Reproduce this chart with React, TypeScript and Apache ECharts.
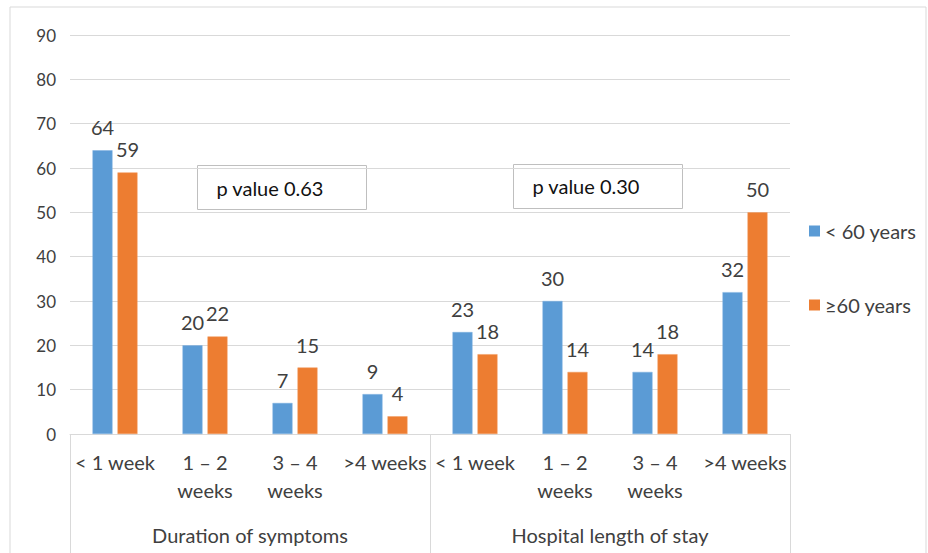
import React, { useEffect, useRef } from "react";
import * as echarts from "echarts";

const categories = [
  "< 1 week", "1 – 2\nweeks", "3 – 4\nweeks", ">4 weeks",
  "< 1 week", "1 – 2\nweeks", "3 – 4\nweeks", ">4 weeks",
];
const groups = ["Duration of symptoms", "Hospital length of stay"];
const under60 = [64, 20, 7, 9, 23, 30, 14, 32];
const over60 = [59, 22, 15, 4, 18, 14, 18, 50];
const seriesNames = ["< 60 years", "≥60 years"];
const pValues = ["p value 0.63", "p value 0.30"];

const FONT = "Lato, 'Open Sans', sans-serif";
const TEXT = "#404040";
const LINE = "#d9d9d9";
const TEXT_SIZE = 20;
const AXIS_NUM_SIZE = 17;
const VALUE_SIZE = 20;

export default function App() {
  const ref = useRef<HTMLDivElement>(null);

  useEffect(() => {
    if (!ref.current) return;
    const chart = echarts.init(ref.current, null, { renderer: "svg" });
    const labelStyle = {
      show: true,
      position: "top" as const,
      distance: 13,
      color: TEXT,
      fontSize: VALUE_SIZE,
      fontFamily: FONT,
    };
    chart.setOption({
      animation: false,
      textStyle: { fontFamily: FONT },
      grid: { left: 70, right: 138, top: 35, bottom: 119, containLabel: false },
      legend: {
        orient: "vertical",
        left: 804,
        top: 216,
        itemWidth: 11,
        itemHeight: 11,
        itemGap: 54,
        itemStyle: { borderWidth: 0 },
        icon: "rect",
        textStyle: { color: TEXT, fontSize: TEXT_SIZE, fontFamily: FONT },
        data: seriesNames,
      },
      xAxis: [
        {
          type: "category",
          data: categories,
          position: "bottom",
          axisLine: { show: true, lineStyle: { color: LINE, width: 1 } },
          axisTick: { show: false },
          axisLabel: {
            interval: 0,
            color: TEXT,
            fontSize: TEXT_SIZE,
            fontFamily: FONT,
            lineHeight: 28,
            margin: 14,
          },
        },
        {
          type: "category",
          data: groups,
          position: "bottom",
          axisLine: { show: false },
          axisTick: { show: true, length: 125, lineStyle: { color: LINE, width: 1 } },
          axisLabel: {
            interval: 0,
            color: TEXT,
            fontSize: TEXT_SIZE,
            fontFamily: FONT,
            margin: 91,
          },
        },
      ],
      yAxis: {
        type: "value",
        min: 0,
        max: 90,
        interval: 10,
        axisLine: { show: false },
        axisTick: { show: false },
        splitLine: { lineStyle: { color: LINE, width: 1 } },
        axisLabel: { color: TEXT, fontSize: AXIS_NUM_SIZE, fontFamily: FONT, margin: 14 },
      },
      series: [
        {
          name: seriesNames[0],
          type: "bar",
          data: under60,
          barWidth: 20,
          barGap: "25%",
          itemStyle: { color: "#5B9BD5", borderColor: "#7fb1e0", borderWidth: 0.5 },
          label: labelStyle,
        },
        {
          name: seriesNames[1],
          type: "bar",
          data: over60,
          barWidth: 20,
          itemStyle: { color: "#ED7D31", borderColor: "#f29a5e", borderWidth: 0.5 },
          label: labelStyle,
        },
      ],
      graphic: [
        {
          type: "rect",
          shape: { x: 10, y: 7, width: 916, height: 560 },
          style: { fill: "none", stroke: LINE, lineWidth: 1 },
          silent: true,
        },
        {
          type: "group",
          left: 197,
          top: 165,
          children: [
            {
              type: "rect",
              shape: { x: 0, y: 0, width: 169, height: 44 },
              style: { fill: "#fff", stroke: "#bfbfbf", lineWidth: 1 },
            },
            {
              type: "text",
              x: 19,
              y: 22,
              style: {
                text: pValues[0],
                fill: "#111",
                fontSize: TEXT_SIZE,
                fontFamily: FONT,
                verticalAlign: "middle",
              },
            },
          ],
        },
        {
          type: "group",
          left: 513,
          top: 164,
          children: [
            {
              type: "rect",
              shape: { x: 0, y: 0, width: 169, height: 44 },
              style: { fill: "#fff", stroke: "#bfbfbf", lineWidth: 1 },
            },
            {
              type: "text",
              x: 19,
              y: 21,
              style: {
                text: pValues[1],
                fill: "#111",
                fontSize: TEXT_SIZE,
                fontFamily: FONT,
                verticalAlign: "middle",
              },
            },
          ],
        },
      ],
    });
    return () => chart.dispose();
  }, []);

  return <div ref={ref} style={{ width: 928, height: 553, position: "absolute", left: 0, top: 0 }} />;
}
